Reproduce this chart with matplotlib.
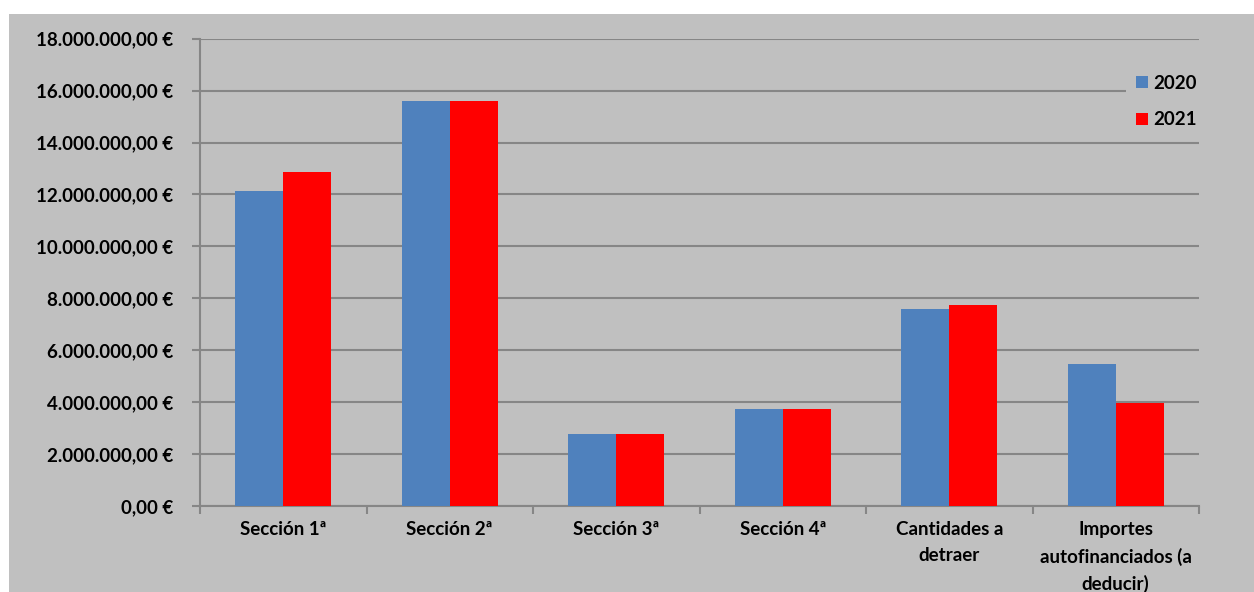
import matplotlib
matplotlib.use("Agg")
import matplotlib.pyplot as plt
from matplotlib.patches import Rectangle
from matplotlib.ticker import FuncFormatter, FixedLocator
import numpy as np

categories = ["Sección 1ª", "Sección 2ª", "Sección 3ª", "Sección 4ª",
              "Cantidades a\ndetraer", "Importes\nautofinanciados (a\ndeducir)"]
values_2020 = [12150000, 15600000, 2780000, 3740000, 7580000, 5470000]
values_2021 = [12850000, 15600000, 2780000, 3740000, 7740000, 3980000]
series_labels = ["2020", "2021"]
y_ticks = [0, 2e6, 4e6, 6e6, 8e6, 10e6, 12e6, 14e6, 16e6, 18e6]

BLUE = "#4F81BD"
RED = "#FF0000"
BG = "#C0C0C0"
GRID = "#868686"
FS = 13.5

plt.rcParams['font.family'] = ['Lato', 'DejaVu Sans']

W, H = 1254, 592
fig = plt.figure(figsize=(W / 100, H / 100), dpi=100)
fig.patch.set_facecolor("white")
bg = Rectangle((9 / W, 0), 1 - 9 / W, 1 - 14 / H, transform=fig.transFigure,
               facecolor=BG, edgecolor="none", zorder=-10)
fig.add_artist(bg)

ax = fig.add_axes([200 / W, 1 - 506 / H, (1199 - 200) / W, (506 - 38.7) / H])
ax.set_zorder(1)
ax.set_facecolor(BG)

x = np.arange(len(categories))
bw = 0.288
ax.bar(x - bw / 2, values_2020, width=bw, color=BLUE, label=series_labels[0], zorder=3)
ax.bar(x + bw / 2, values_2021, width=bw, color=RED, label=series_labels[1], zorder=3)

ax.set_xlim(-0.5, len(categories) - 0.5)
ax.set_ylim(0, 18e6)
ax.set_yticks(y_ticks)


def fmt(v, pos):
    s = f"{v:,.2f}"
    s = s.replace(",", "X").replace(".", ",").replace("X", ".")
    return s + " €"


ax.yaxis.set_major_formatter(FuncFormatter(fmt))
ax.set_xticks(x)
ax.set_xticklabels(categories, fontweight="bold", fontsize=FS, linespacing=1.62)
ax.xaxis.set_minor_locator(FixedLocator(np.arange(-0.5, len(categories), 1.0)))
ax.tick_params(axis="x", which="major", length=0, pad=11)
ax.tick_params(axis="x", which="minor", length=6, color=GRID, width=1.5)
ax.tick_params(axis="y", length=6, color=GRID, width=1.5, pad=13)
for lab in ax.get_yticklabels():
    lab.set_fontweight("bold")
    lab.set_fontsize(FS)

ax.grid(axis="y", color=GRID, linewidth=1.5, zorder=1)
ax.set_axisbelow(True)
for side in ["top", "right"]:
    ax.spines[side].set_visible(False)
for side in ["left", "bottom"]:
    ax.spines[side].set_color(GRID)
    ax.spines[side].set_linewidth(1.5)

leg = ax.legend(loc="upper left", bbox_to_anchor=(1117 / W, 1 - 56 / H),
                bbox_transform=fig.transFigure, frameon=True, facecolor=BG,
                edgecolor="none", framealpha=1, handlelength=0.65, handleheight=0.65,
                handletextpad=0.3, labelspacing=1.05, borderpad=0.5,
                prop={"weight": "bold", "size": FS})
leg.set_zorder(5)

fig.savefig("out.png", dpi=100, facecolor=fig.get_facecolor())
